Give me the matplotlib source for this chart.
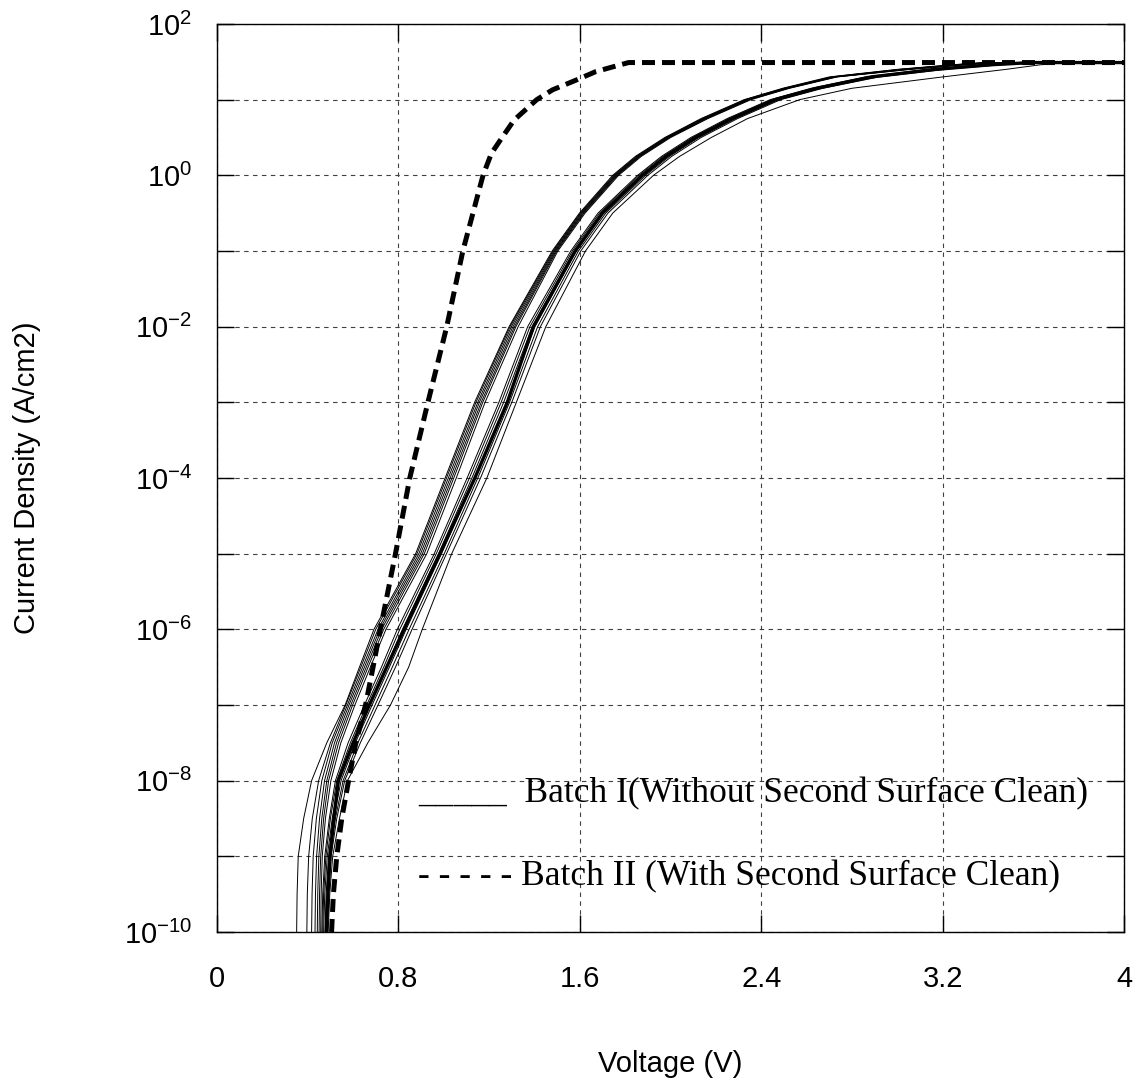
import numpy as np
import matplotlib
matplotlib.use('Agg')
import matplotlib.pyplot as plt
from matplotlib.ticker import FixedLocator, FuncFormatter, NullLocator

plt.rcParams['font.family'] = ['Liberation Sans', 'DejaVu Sans']
plt.rcParams['mathtext.fontset'] = 'custom'
plt.rcParams['mathtext.rm'] = 'Liberation Sans'
plt.rcParams['mathtext.it'] = 'Liberation Sans:italic'
plt.rcParams['mathtext.bf'] = 'Liberation Sans:bold'

logj_levels = [-10, -9.5, -9, -8.5, -8, -7.5, -7, -6.5, -6, -5, -4, -3, -2, -1,
               -0.5, 0, 0.25, 0.5, 0.75, 1.0, 1.15, 1.3, 1.4, 1.46, 1.49]
compliance_logj = 1.49
v_end = 4.0

# batch I, upper/left bundle (voltage at each level)
b1_a1 = [0.351, 0.353, 0.358, 0.382, 0.417, 0.484, 0.565, 0.628, 0.692, 0.876, 1.006, 1.136, 1.288, 1.478, 1.598, 1.745, 1.845, 1.975, 2.135, 2.325, 2.495, 2.70, 3.00, 3.24, 3.38]
b1_a2 = [0.396, 0.398, 0.404, 0.420, 0.448, 0.500, 0.568, 0.634, 0.700, 0.882, 1.012, 1.142, 1.292, 1.482, 1.602, 1.750, 1.850, 1.980, 2.140, 2.330, 2.500, 2.71, 3.01, 3.25, 3.39]
b1_a3 = [0.417, 0.419, 0.424, 0.438, 0.462, 0.508, 0.575, 0.642, 0.710, 0.890, 1.020, 1.150, 1.298, 1.486, 1.606, 1.754, 1.854, 1.984, 2.145, 2.335, 2.505, 2.715, 3.02, 3.26, 3.40]
b1_a4 = [0.432, 0.434, 0.439, 0.452, 0.474, 0.518, 0.582, 0.650, 0.718, 0.898, 1.028, 1.157, 1.305, 1.490, 1.610, 1.758, 1.858, 1.988, 2.150, 2.340, 2.510, 2.72, 3.03, 3.27, 3.41]
b1_a5 = [0.442, 0.444, 0.449, 0.462, 0.484, 0.527, 0.590, 0.658, 0.726, 0.906, 1.036, 1.165, 1.312, 1.494, 1.614, 1.762, 1.862, 1.992, 2.155, 2.345, 2.515, 2.725, 3.04, 3.28, 3.42]
b1_a6 = [0.450, 0.452, 0.457, 0.470, 0.492, 0.536, 0.598, 0.666, 0.735, 0.914, 1.044, 1.172, 1.318, 1.498, 1.618, 1.766, 1.866, 1.996, 2.160, 2.350, 2.520, 2.73, 3.05, 3.29, 3.43]
b1_a7 = [0.457, 0.459, 0.464, 0.478, 0.502, 0.546, 0.608, 0.676, 0.745, 0.925, 1.055, 1.182, 1.328, 1.503, 1.623, 1.771, 1.871, 2.001, 2.165, 2.355, 2.525, 2.735, 3.06, 3.30, 3.44]

# batch I, lower/right bundle
b1_b1 = [0.462, 0.466, 0.475, 0.495, 0.522, 0.578, 0.650, 0.725, 0.795, 0.958, 1.103, 1.243, 1.370, 1.560, 1.680, 1.855, 1.960, 2.090, 2.250, 2.440, 2.620, 2.86, 3.13, 3.38, 3.56]
b1_b2 = [0.466, 0.470, 0.480, 0.500, 0.528, 0.588, 0.660, 0.735, 0.806, 0.967, 1.113, 1.253, 1.380, 1.567, 1.687, 1.862, 1.967, 2.097, 2.258, 2.448, 2.630, 2.87, 3.14, 3.39, 3.57]
b1_b3 = [0.470, 0.475, 0.486, 0.508, 0.538, 0.598, 0.670, 0.746, 0.818, 0.977, 1.124, 1.264, 1.390, 1.574, 1.694, 1.870, 1.975, 2.105, 2.266, 2.456, 2.640, 2.88, 3.16, 3.40, 3.58]
b1_b4 = [0.476, 0.481, 0.492, 0.515, 0.547, 0.610, 0.684, 0.760, 0.834, 0.990, 1.138, 1.278, 1.402, 1.584, 1.704, 1.880, 1.985, 2.115, 2.276, 2.466, 2.650, 2.89, 3.17, 3.42, 3.60]
b1_b5 = [0.482, 0.487, 0.498, 0.522, 0.556, 0.621, 0.697, 0.773, 0.847, 1.002, 1.150, 1.290, 1.414, 1.594, 1.714, 1.890, 1.995, 2.125, 2.286, 2.476, 2.660, 2.90, 3.19, 3.44, 3.62]
b1_b6 = [0.486, 0.492, 0.503, 0.528, 0.563, 0.632, 0.710, 0.787, 0.860, 1.012, 1.162, 1.300, 1.426, 1.604, 1.724, 1.900, 2.005, 2.135, 2.296, 2.486, 2.672, 2.92, 3.21, 3.46, 3.64]
b1_b7 = [0.490, 0.497, 0.510, 0.540, 0.575, 0.665, 0.765, 0.845, 0.905, 1.035, 1.190, 1.320, 1.450, 1.625, 1.745, 1.925, 2.040, 2.180, 2.340, 2.570, 2.800, 3.20, 3.48, 3.63, 3.74]

# batch I, the bold curve
b1_bold = [0.482, 0.489, 0.498, 0.515, 0.535, 0.600, 0.672, 0.748, 0.825, 0.983, 1.137, 1.280, 1.395, 1.580, 1.700, 1.876, 1.981, 2.111, 2.272, 2.462, 2.645, 2.885, 3.17, 3.41, 3.59]

# batch II (dashed)
b2_v = [0.505, 0.513, 0.528, 0.550, 0.580, 0.612, 0.655, 0.688, 0.720, 0.787, 0.850, 0.930, 1.013, 1.084, 1.173, 1.210, 1.255, 1.310, 1.410, 1.480, 1.585, 1.670, 1.760, 1.815, 4.0]
b2_logj = [-10, -9.5, -9, -8.5, -8, -7.5, -7, -6.5, -6, -5, -4, -3, -2, -1, 0, 0.29, 0.49, 0.73, 1.0, 1.13, 1.26, 1.37, 1.445, 1.49, 1.49]

x_ticks = [0, 0.8, 1.6, 2.4, 3.2, 4]
x_labels = ['0', '0.8', '1.6', '2.4', '3.2', '4']

thin = [b1_a1, b1_a2, b1_a3, b1_a4, b1_a5, b1_a6, b1_a7,
        b1_b1, b1_b2, b1_b3, b1_b4, b1_b5, b1_b6, b1_b7]

fig = plt.figure(figsize=(11.37, 10.89), dpi=100)
ax = fig.add_axes([0.1909, 0.1442, 0.7977, 0.8338])

jj = 10.0 ** np.append(logj_levels, compliance_logj)
for v in thin:
    ax.plot(np.append(v, v_end), jj, color='black', lw=0.7)
ax.plot(np.append(b1_bold, v_end), jj, color='black', lw=2.4)
ax.plot(b2_v, 10.0 ** np.array(b2_logj), color='black', lw=3.6,
        dashes=(2.6, 1.4), dash_capstyle='butt')

ax.set_yscale('log')
ax.set_xlim(0, 4)
ax.set_ylim(1e-10, 1e2)
ax.xaxis.set_major_locator(FixedLocator(x_ticks))
ax.set_xticklabels(x_labels)
ax.yaxis.set_major_locator(FixedLocator([10.0 ** k for k in range(-10, 3)]))
ax.yaxis.set_minor_locator(NullLocator())
ax.yaxis.set_major_formatter(FuncFormatter(
    lambda val, pos: r'$\mathregular{10^{%d}}$' % round(np.log10(val))
    if round(np.log10(val)) % 2 == 0 else ''))

ax.set_axisbelow(True)
ax.grid(True, color='0.25', lw=0.8, linestyle=(0, (4, 4)))
ax.tick_params(direction='in', length=12, width=1, top=True, right=True,
               labelsize=21)
ax.tick_params(axis='x', pad=24)
ax.tick_params(axis='y', pad=18)
for s in ax.spines.values():
    s.set_linewidth(1.0)

fig.text(27 / 1137, 1 - 478 / 1089, 'Current Density (A/cm2)', rotation=90,
         ha='center', va='center', fontsize=21)
fig.text(670 / 1137, 1 - 1064 / 1089, 'Voltage (V)', ha='center', va='center',
         fontsize=21)

ax.text(0.2216, 0.1432, '_____  Batch I(Without Second Surface Clean)',
        transform=ax.transAxes, family='Liberation Serif', fontsize=25.5,
        va='baseline')
ax.text(0.2216, 0.0518, '- - - - - Batch II (With Second Surface Clean)',
        transform=ax.transAxes, family='Liberation Serif', fontsize=25.5,
        va='baseline')

fig.savefig('out.png', dpi=100)
